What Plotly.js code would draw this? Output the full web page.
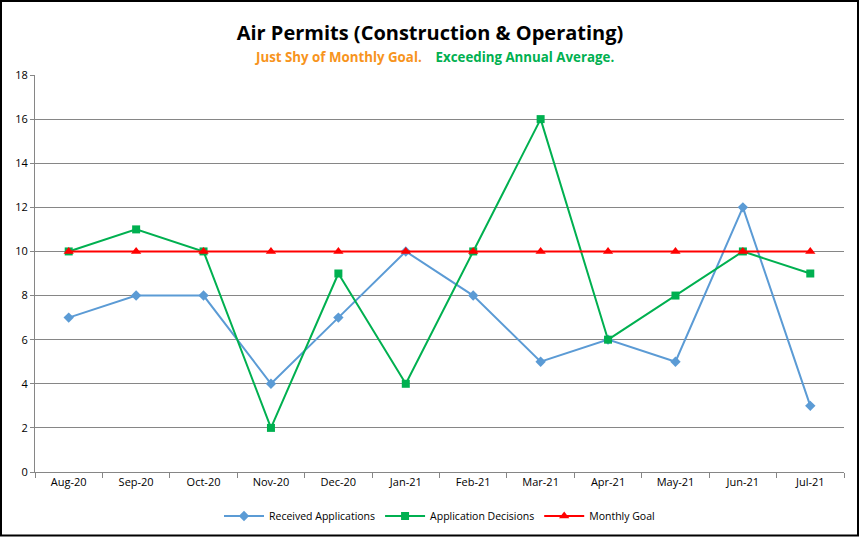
<!DOCTYPE html>
<html><head><meta charset="utf-8">
<script src="https://cdn.plot.ly/plotly-3.0.1.min.js"></script>
<style>html,body{margin:0;padding:0;background:#fff;}#chart{width:860px;height:537px;}</style>
</head><body><div id="chart"></div>
<script>
const months = ["Aug-20","Sep-20","Oct-20","Nov-20","Dec-20","Jan-21","Feb-21","Mar-21","Apr-21","May-21","Jun-21","Jul-21"];
const received = [7,8,8,4,7,10,8,5,6,5,12,3];
const decisions = [10,11,10,2,9,4,10,16,6,8,10,9];
const goal = [10,10,10,10,10,10,10,10,10,10,10,10];

const W = 860, H = 537, L = 35, R = 16, T = 75, B = 65;
const pw = W - L - R, ph = H - T - B;
const px = v => (v - L) / pw;
const py = v => (H - B - v) / ph;

const font = "Open Sans, Liberation Sans, sans-serif";
const traces = [
  {x: months, y: received, name: "Received Applications", type: "scatter", mode: "lines+markers",
   line: {color: "#5B9BD5", width: 2}, marker: {symbol: "diamond", size: 8, color: "#5B9BD5"}},
  {x: months, y: decisions, name: "Application Decisions", type: "scatter", mode: "lines+markers",
   line: {color: "#00B050", width: 2}, marker: {symbol: "square", size: 8, color: "#00B050"}},
  {x: months, y: goal, name: "Monthly Goal", type: "scatter", mode: "lines+markers",
   line: {color: "#FF0000", width: 2}, marker: {symbol: "triangle-up", size: 9, color: "#FF0000"}}
];
const layout = {
  width: W, height: H,
  margin: {l: L, r: R, t: T, b: B, autoexpand: false},
  paper_bgcolor: "#fff", plot_bgcolor: "#fff",
  font: {family: font, size: 11, color: "#000"},
  title: {text: "<b>Air Permits (Construction &amp; Operating)</b>", font: {family: font, size: 20, color: "#000"},
          x: 0.5, xanchor: "center", y: 1 - 33/H, yanchor: "middle"},
  annotations: [{
    text: "<b><span style='color:#F7941D'>Just Shy of Monthly Goal.</span>&nbsp;&nbsp;&nbsp;&nbsp;<span style='color:#00B050'>Exceeding Annual Average.</span></b>",
    xref: "paper", yref: "paper", x: px(434), y: py(57), xanchor: "center", yanchor: "middle",
    showarrow: false, font: {family: font, size: 13.3}
  }],
  xaxis: {type: "category", range: [-0.5, 11.5], showgrid: false, showline: true, linecolor: "#868686", linewidth: 1,
          ticks: "outside", tickson: "boundaries", ticklen: 5, tickcolor: "#868686", tickfont: {size: 11},
          zeroline: false, fixedrange: true, automargin: false},
  yaxis: {range: [0, 18], dtick: 2, showgrid: true, gridcolor: "#868686", gridwidth: 1, showline: true,
          linecolor: "#868686", ticks: "outside", ticklen: 4, tickcolor: "#868686", zeroline: false,
          tickfont: {size: 11}, fixedrange: true, automargin: false},
  legend: {orientation: "h", x: 0.5, xanchor: "center", yref: "container", y: 1 - 516/H, yanchor: "middle",
           font: {size: 10.5}, itemwidth: 40, tracegroupgap: 0},
  showlegend: true,
  shapes: [{type: "rect", xref: "paper", yref: "paper", x0: px(1), x1: px(858), y0: py(1), y1: py(535.5),
            line: {color: "#000", width: 2}, layer: "above"}]
};
Plotly.newPlot("chart", traces, layout, {displayModeBar: false, staticPlot: true});
</script></body></html>
